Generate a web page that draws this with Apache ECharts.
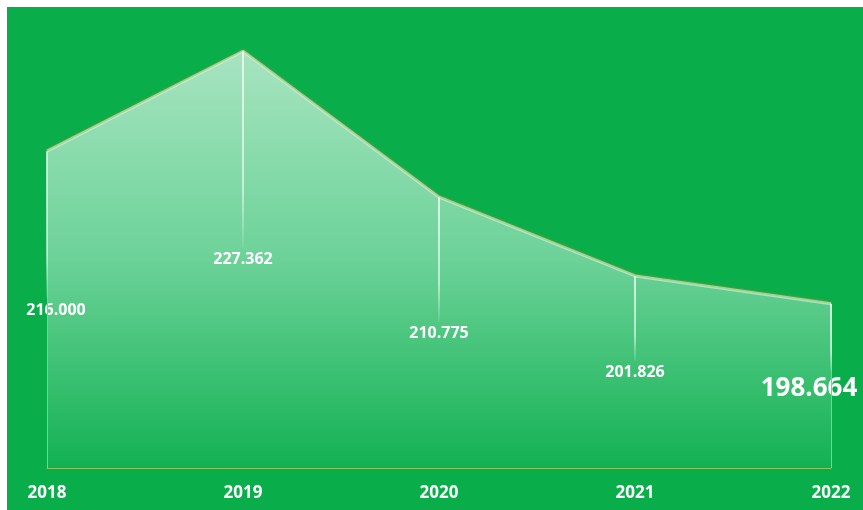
<!DOCTYPE html>
<html>
<head>
<meta charset="utf-8">
<script src="https://cdn.jsdelivr.net/npm/echarts@6/dist/echarts.min.js"></script>
<style>
  html, body { margin: 0; padding: 0; background: #fff; }
  #chart { position: absolute; left: 7px; top: 7px; width: 856px; height: 503px; }
</style>
</head>
<body>
<div id="chart"></div>
<script>
// 年份与数值
const years = ['2018', '2019', '2020', '2021', '2022']
const values = [216.0, 227.362, 210.775, 201.826, 198.664]
// 标签相对数据点的偏移（像素）
const labelOffsets = [[9, 159], [0, 208], [0, 136], [0, 97], [-22, 85]]
const labelSizes = [16, 16, 16, 16, 26]
const yMin = 180
const yMax = 230

const chart = echarts.init(document.getElementById('chart'))

const seriesData = values.map((v, i) => ({
  value: v,
  label: {
    offset: labelOffsets[i],
    fontSize: labelSizes[i]
  }
}))

// 两端的竖边
const edgeLines = [0, values.length - 1].map((i) => [
  { coord: [years[i], yMin] },
  { coord: [years[i], values[i]] }
])

chart.setOption({
  backgroundColor: '#09ae4b',
  animation: false,
  grid: { left: 40, right: 32, top: 21, bottom: 42 },
  xAxis: {
    type: 'category',
    data: years,
    boundaryGap: false,
    axisLine: { lineStyle: { color: '#8cc35a', width: 1 } },
    axisTick: { show: false },
    axisLabel: {
      color: '#fff',
      fontFamily: 'Open Sans',
      fontWeight: 'bold',
      fontSize: 17,
      margin: 17
    },
    splitLine: { show: false }
  },
  yAxis: {
    type: 'value',
    min: yMin,
    max: yMax,
    show: false
  },
  series: [
    {
      type: 'line',
      data: seriesData,
      symbol: 'circle',
      symbolSize: 2,
      itemStyle: { color: 'rgba(255,255,255,0)' },
      lineStyle: {
        color: 'rgba(230,250,235,0.55)',
        width: 3,
        shadowColor: 'rgba(150,150,40,0.9)',
        shadowBlur: 1,
        shadowOffsetY: -1
      },
      areaStyle: {
        opacity: 1,
        color: new echarts.graphic.LinearGradient(0, 0, 0, 1, [
          { offset: 0, color: '#a7e4c0' },
          { offset: 0.5, color: '#6cd298' },
          { offset: 1, color: '#13b153' }
        ])
      },
      label: {
        show: true,
        position: 'inside',
        color: '#fff',
        fontFamily: 'Open Sans',
        fontWeight: 'bold',
        formatter: (p) => p.value.toFixed(3)
      },
      markLine: {
        silent: true,
        symbol: 'none',
        label: { show: false },
        lineStyle: { color: '#9cc860', width: 1, type: 'solid' },
        data: edgeLines
      }
    }
  ]
})

// 从数据点垂直引到标签的白色引导线
const guides = values.map((v, i) => {
  const p = chart.convertToPixel({ gridIndex: 0 }, [years[i], v])
  const y2 = p[1] + labelOffsets[i][1] - labelSizes[i] / 2 - 4
  return {
    type: 'line',
    silent: true,
    z: 5,
    shape: { x1: p[0], y1: p[1], x2: p[0], y2: y2 },
    style: {
      lineWidth: 1.5,
      stroke: new echarts.graphic.LinearGradient(0, p[1], 0, y2, [
        { offset: 0, color: 'rgba(255,255,255,0.95)' },
        { offset: 0.7, color: 'rgba(255,255,255,0.75)' },
        { offset: 1, color: 'rgba(255,255,255,0.1)' }
      ], true)
    }
  }
})
chart.setOption({ graphic: guides })
</script>
</body>
</html>
